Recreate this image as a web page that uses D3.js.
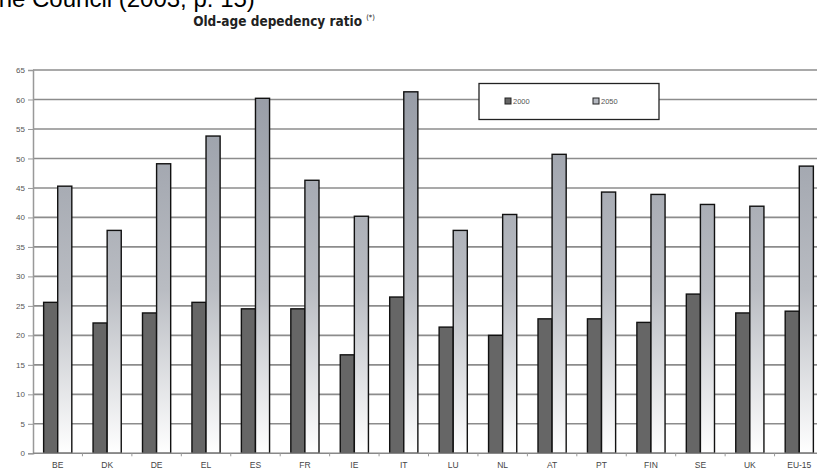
<!DOCTYPE html>
<html><head><meta charset="utf-8">
<script src="https://cdn.jsdelivr.net/npm/d3@7"></script>
<style>body{margin:0;background:#fff;overflow:hidden}svg{display:block}</style>
</head><body>
<svg id="c" width="817" height="473"></svg>
<script>
const categories = ["BE","DK","DE","EL","ES","FR","IE","IT","LU","NL","AT","PT","FIN","SE","UK","EU-15"];
const values2000 = [25.6,22.1,23.8,25.6,24.5,24.5,16.7,26.5,21.4,20.0,22.8,22.8,22.2,27.0,23.8,24.1];
const values2050 = [45.3,37.8,49.1,53.8,60.2,46.3,40.2,61.3,37.8,40.5,50.7,44.3,43.9,42.2,41.9,48.7];
const seriesNames = ["2000","2050"];
const yTicks = [0,5,10,15,20,25,30,35,40,45,50,55,60,65];

(function(){
const svg = d3.select("#c");
const mLeft = 33, mRight = 824, mTop = 70, mBottom = 453.3;

const x = d3.scaleBand().domain(categories).range([mLeft, mRight]).paddingInner(0.43).paddingOuter(0.215);
const xs = d3.scaleBand().domain(seriesNames).range([0, x.bandwidth()]);
const y = d3.scaleLinear().domain([0,65]).range([mBottom, mTop]);

const defs = svg.append("defs");
const g = defs.append("linearGradient").attr("id","lg").attr("x1",0).attr("x2",0).attr("gradientUnits","userSpaceOnUse")
  .attr("y1", y(62)).attr("y2", mBottom);
g.append("stop").attr("offset",0).attr("stop-color","#979ca6");
g.append("stop").attr("offset",0.55).attr("stop-color","#b9bcc2");
g.append("stop").attr("offset",1).attr("stop-color","#ffffff");

// top cropped text (cropped in the reference too)
svg.append("text").attr("x",-8).attr("y",7).attr("font-family","Liberation Sans, Arial").attr("font-size",24).attr("fill","#000").text("the Council (2003, p. 15)");

// title
const t = svg.append("text").attr("x",284).attr("y",26).attr("text-anchor","middle")
  .attr("font-family","DejaVu Sans Condensed, DejaVu Sans").attr("font-weight","bold").attr("font-size",13.5).attr("fill","#222");
t.append("tspan").text("Old-age depedency ratio ");
t.append("tspan").attr("font-size",7.5).attr("dy",-6).attr("font-weight","normal").text("(*)");

// gridlines
svg.append("g").selectAll("line").data(yTicks.filter(d=>d>0)).join("line")
  .attr("x1",mLeft).attr("x2",817).attr("y1",d=>y(d)).attr("y2",d=>y(d))
  .attr("stroke","#8c8c8c").attr("stroke-width",1.6);

// y axis
const ya = svg.append("g").attr("transform",`translate(${mLeft},0)`)
  .call(d3.axisLeft(y).tickValues(yTicks).tickSize(5).tickPadding(3));
ya.select(".domain").attr("stroke","#999").attr("stroke-width",1.5);
ya.selectAll(".tick line").attr("stroke","#999");
ya.selectAll("text").attr("font-family","Liberation Sans, Arial").attr("font-size",8).attr("fill","#555");

// bars
const grp = svg.append("g").selectAll("g").data(categories).join("g")
  .attr("transform",d=>`translate(${x(d)},0)`);
grp.append("rect").attr("x",xs("2000")).attr("width",xs.bandwidth())
  .attr("y",(d,i)=>y(values2000[i])).attr("height",(d,i)=>mBottom-y(values2000[i]))
  .attr("fill","#666666").attr("stroke","#111").attr("stroke-width",1.4);
grp.append("rect").attr("x",xs("2050")).attr("width",xs.bandwidth())
  .attr("y",(d,i)=>y(values2050[i])).attr("height",(d,i)=>mBottom-y(values2050[i]))
  .attr("fill","url(#lg)").attr("stroke","#111").attr("stroke-width",1.4);

// x axis
svg.append("line").attr("x1",mLeft).attr("x2",817).attr("y1",mBottom).attr("y2",mBottom).attr("stroke","#888").attr("stroke-width",1.5);
const step = x.step();
svg.append("g").selectAll("line").data(categories.slice(0,-1)).join("line")
  .attr("x1",d=>x(d)+x.bandwidth()+(step-x.bandwidth())/2).attr("x2",d=>x(d)+x.bandwidth()+(step-x.bandwidth())/2)
  .attr("y1",mBottom).attr("y2",mBottom+3).attr("stroke","#999");
svg.append("g").selectAll("text").data(categories).join("text")
  .attr("x",d=>x(d)+x.bandwidth()/2).attr("y",468).attr("text-anchor","middle")
  .attr("font-family","Liberation Sans, Arial").attr("font-size",8.5).attr("fill","#444").text(d=>d);

// legend
const lgd = svg.append("g");
lgd.append("rect").attr("x",479).attr("y",83.5).attr("width",180).attr("height",36).attr("fill","#fff").attr("stroke","#222").attr("stroke-width",1.3);
const lx = [505,593];
seriesNames.forEach((s,i)=>{
  lgd.append("rect").attr("x",lx[i]).attr("y",98).attr("width",6).attr("height",6)
    .attr("fill", i===0?"#666":"#b4b8c0").attr("stroke","#222").attr("stroke-width",1);
  lgd.append("text").attr("x",lx[i]+8).attr("y",104).attr("font-family","Liberation Sans, Arial").attr("font-size",7.5).attr("fill","#555").text(s);
});
})();
</script>
</body></html>
